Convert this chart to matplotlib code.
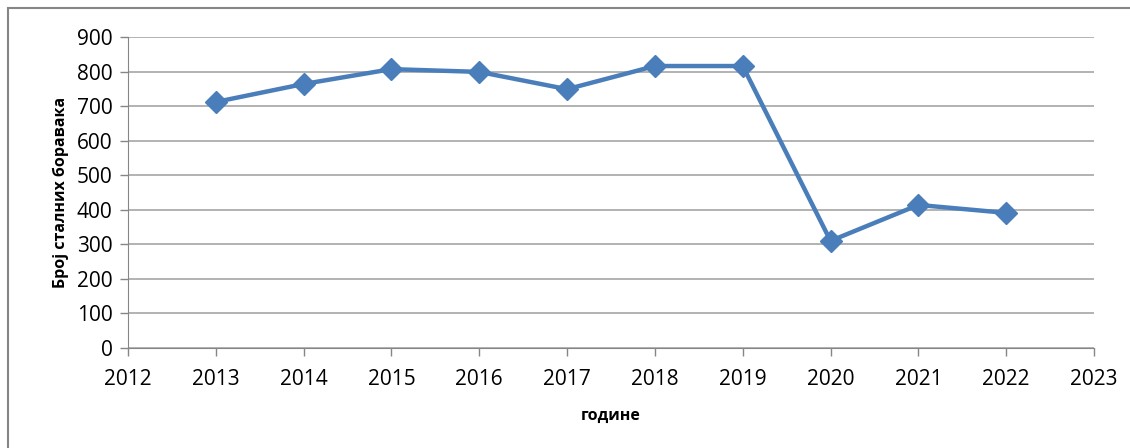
import matplotlib.pyplot as plt
from matplotlib.patches import Rectangle

years = [2013, 2014, 2015, 2016, 2017, 2018, 2019, 2020, 2021, 2022]
stays = [712, 764, 807, 799, 749, 816, 816, 310, 414, 391]
x_ticks = list(range(2012, 2024))
y_ticks = list(range(0, 1000, 100))

plt.rcParams['font.family'] = ['Open Sans', 'DejaVu Sans']

fig = plt.figure(figsize=(11.3, 4.48), dpi=100)
ax = fig.add_axes([128 / 1130, 1 - 348 / 448, (1094 - 128) / 1130, (348 - 37) / 448])

# frame around the chart area
fig.patches.append(Rectangle((8 / 1130, -0.02), 1.2, 1 - 8 / 448 + 0.02, transform=fig.transFigure,
                             fill=False, edgecolor='#868686', linewidth=1.5))

ax.plot(years, stays, color='#4a7ebb', linewidth=3.2, marker='D', markersize=11,
        markerfacecolor='#4a7ebb', markeredgecolor='#4a7ebb', zorder=3)

ax.set_xlim(2012, 2023)
ax.set_ylim(0, 900)
ax.set_xticks(x_ticks)
ax.set_yticks(y_ticks)
ax.tick_params(axis='both', labelsize=15, colors='#868686', labelcolor='black', length=6, width=1)
ax.tick_params(axis='x', pad=9)
ax.tick_params(axis='y', pad=5)
ax.grid(axis='y', color='#a6a6a6', linewidth=1.2)
ax.set_axisbelow(True)
for s in ['top', 'right']:
    ax.spines[s].set_visible(False)
for s in ['left', 'bottom']:
    ax.spines[s].set_color('#868686')

ax.set_ylabel('Број сталних боравака', fontsize=11.5, fontweight='bold', labelpad=6)
ax.set_xlabel('године', fontsize=11.5, fontweight='bold', labelpad=13)

fig.savefig('out.png', dpi=100)
